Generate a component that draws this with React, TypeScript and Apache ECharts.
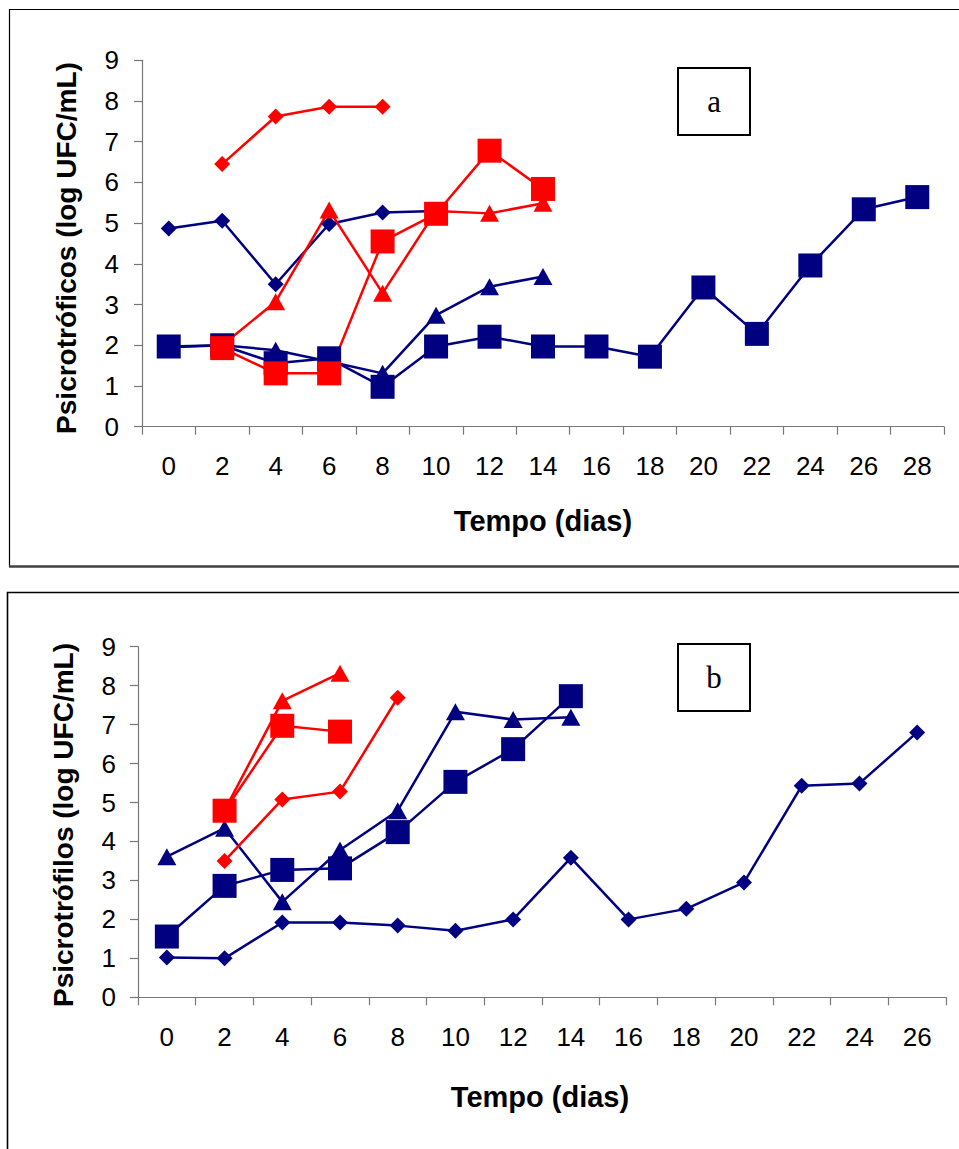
import React, { useEffect, useRef } from "react";
import * as echarts from "echarts";

// ---------- data ----------
const daysA = ["0", "2", "4", "6", "8", "10", "12", "14", "16", "18", "20", "22", "24", "26", "28"];
const daysB = ["0", "2", "4", "6", "8", "10", "12", "14", "16", "18", "20", "22", "24", "26"];

// Panel a: Psicrotróficos
const aBlueTriangle = [1.95, 2.0, 1.88, 1.6, 1.31, 2.74, 3.44, 3.69];
const aBlueDiamond = [4.87, 5.06, 3.5, 4.98, 5.26, 5.3];
const aBlueSquare = [1.97, 2.0, 1.56, 1.68, 0.98, 1.97, 2.21, 1.97, 1.97, 1.72, 3.42, 2.28, 3.96, 5.34, 5.64];
const aRedTriangle = [null, 2.0, 3.07, 5.32, 3.28, 5.3, 5.24, 5.49];
const aRedDiamond = [null, 6.45, 7.62, 7.86, 7.86];
const aRedSquare = [null, 1.93, 1.31, 1.31, 4.55, 5.23, 6.78, 5.84];

// Panel b: Psicrotrófilos
const bBlueDiamond = [1.02, 1.0, 1.92, 1.92, 1.84, 1.71, 2.0, 3.58, 2.0, 2.27, 2.95, 5.43, 5.49, 6.8];
const bBlueTriangle = [3.61, 4.34, 2.45, 3.78, 4.79, 7.33, 7.13, 7.19];
const bBlueSquare = [1.56, 2.86, 3.27, 3.31, 4.24, 5.53, 6.37, 7.73];
const bRedDiamond = [null, 3.5, 5.08, 5.28, 7.69];
const bRedTriangle = [null, 4.8, 7.61, 8.32];
const bRedSquare = [null, 4.79, 6.97, 6.82];

const NAVY = "#000080";
const RED = "#FF0000";
const AXIS = "#777777";
const FONT = "'Liberation Sans', Arial, Helvetica, sans-serif";

const symbolDefs: Record<string, { symbol: string; size: number | number[] }> = {
  diamond: { symbol: "diamond", size: [16, 16] },
  triangle: { symbol: "triangle", size: [19, 17] },
  square: { symbol: "rect", size: [24, 24] },
};

function mk(data: (number | null)[], color: string, shape: string, gridIdx: number) {
  const s = symbolDefs[shape];
  return {
    type: "line",
    xAxisIndex: gridIdx,
    yAxisIndex: gridIdx,
    data,
    symbol: s.symbol,
    symbolSize: s.size,
    showAllSymbol: true,
    connectNulls: false,
    lineStyle: { color, width: 2.5 },
    itemStyle: { color, borderWidth: 0 },
    emphasis: { disabled: true },
  };
}

function xAxis(cats: string[], gridIndex: number, margin: number) {
  return {
    type: "category",
    gridIndex,
    data: cats,
    boundaryGap: true,
    axisLine: { show: true, lineStyle: { color: AXIS, width: 1.2 } },
    axisTick: { show: true, length: 8, lineStyle: { color: AXIS, width: 1.2 } },
    axisLabel: { color: "#000", fontSize: 26, fontFamily: FONT, margin, interval: 0 },
    splitLine: { show: false },
  };
}

function yAxis(gridIndex: number, margin: number) {
  return {
    type: "value",
    gridIndex,
    min: 0,
    max: 9,
    interval: 1,
    axisLine: { show: true, lineStyle: { color: AXIS, width: 1.2 } },
    axisTick: { show: true, length: 8, lineStyle: { color: AXIS, width: 1.2 } },
    axisLabel: { color: "#000", fontSize: 26, fontFamily: FONT, margin },
    splitLine: { show: false },
  };
}

function titleText(text: string, x: number, y: number, rot: number, size: number) {
  return {
    type: "text",
    x,
    y,
    rotation: rot,
    style: {
      text,
      fill: "#000",
      fontSize: size,
      fontWeight: "bold",
      fontFamily: FONT,
      align: "center",
      verticalAlign: "middle",
    },
  };
}

function labelBox(letter: string, x: number, y: number, w: number, h: number) {
  return [
    {
      type: "rect",
      shape: { x, y, width: w, height: h },
      style: { fill: "#fff", stroke: "#000", lineWidth: 2 },
    },
    {
      type: "text",
      x: x + w / 2,
      y: y + h / 2,
      style: {
        text: letter,
        fill: "#000",
        fontSize: 31,
        fontFamily: "'Liberation Serif', 'Times New Roman', serif",
        align: "center",
        verticalAlign: "middle",
      },
    },
  ];
}

export default function App() {
  const ref = useRef<HTMLDivElement>(null);

  useEffect(() => {
    if (!ref.current) return;
    const chart = echarts.init(ref.current, undefined, { renderer: "svg" });
    chart.setOption({
      animation: false,
      backgroundColor: "#fff",
      grid: [
        { left: 142, top: 60.3, width: 802, height: 366.4 },
        { left: 138, top: 646.7, width: 808, height: 350.6 },
      ],
      xAxis: [xAxis(daysA, 0, 26), xAxis(daysB, 1, 27)],
      yAxis: [yAxis(0, 23), yAxis(1, 22)],
      series: [
        mk(aBlueTriangle, NAVY, "triangle", 0),
        mk(aBlueDiamond, NAVY, "diamond", 0),
        mk(aBlueSquare, NAVY, "square", 0),
        mk(aRedTriangle, RED, "triangle", 0),
        mk(aRedDiamond, RED, "diamond", 0),
        mk(aRedSquare, RED, "square", 0),
        mk(bBlueDiamond, NAVY, "diamond", 1),
        mk(bBlueTriangle, NAVY, "triangle", 1),
        mk(bBlueSquare, NAVY, "square", 1),
        mk(bRedDiamond, RED, "diamond", 1),
        mk(bRedTriangle, RED, "triangle", 1),
        mk(bRedSquare, RED, "square", 1),
      ],
      graphic: [
        {
          type: "rect",
          z: -10,
          shape: { x: 9.5, y: 9.5, width: 960, height: 557 },
          style: { fill: "none", stroke: "#000", lineWidth: 1.2 },
        },
        {
          type: "line",
          shape: { x1: 9, y1: 566.5, x2: 959, y2: 566.5 },
          style: { stroke: "#404040", lineWidth: 2.5 },
        },
        {
          type: "rect",
          z: -10,
          shape: { x: 7.5, y: 592.5, width: 960, height: 600 },
          style: { fill: "none", stroke: "#000", lineWidth: 1.6 },
        },
        titleText("Psicrotróficos (log UFC/mL)", 66, 248, Math.PI / 2, 28),
        titleText("Tempo (dias)", 543, 521, 0, 29),
        titleText("Psicrotrófilos (log UFC/mL)", 63, 825, Math.PI / 2, 28),
        titleText("Tempo (dias)", 540, 1097, 0, 29),
        ...labelBox("a", 678, 68, 72, 67),
        ...labelBox("b", 678, 644, 72, 67),
      ],
    });
    return () => chart.dispose();
  }, []);

  return (
    <div
      ref={ref}
      style={{ position: "absolute", left: 0, top: 0, width: 959, height: 1149, background: "#fff" }}
    />
  );
}
